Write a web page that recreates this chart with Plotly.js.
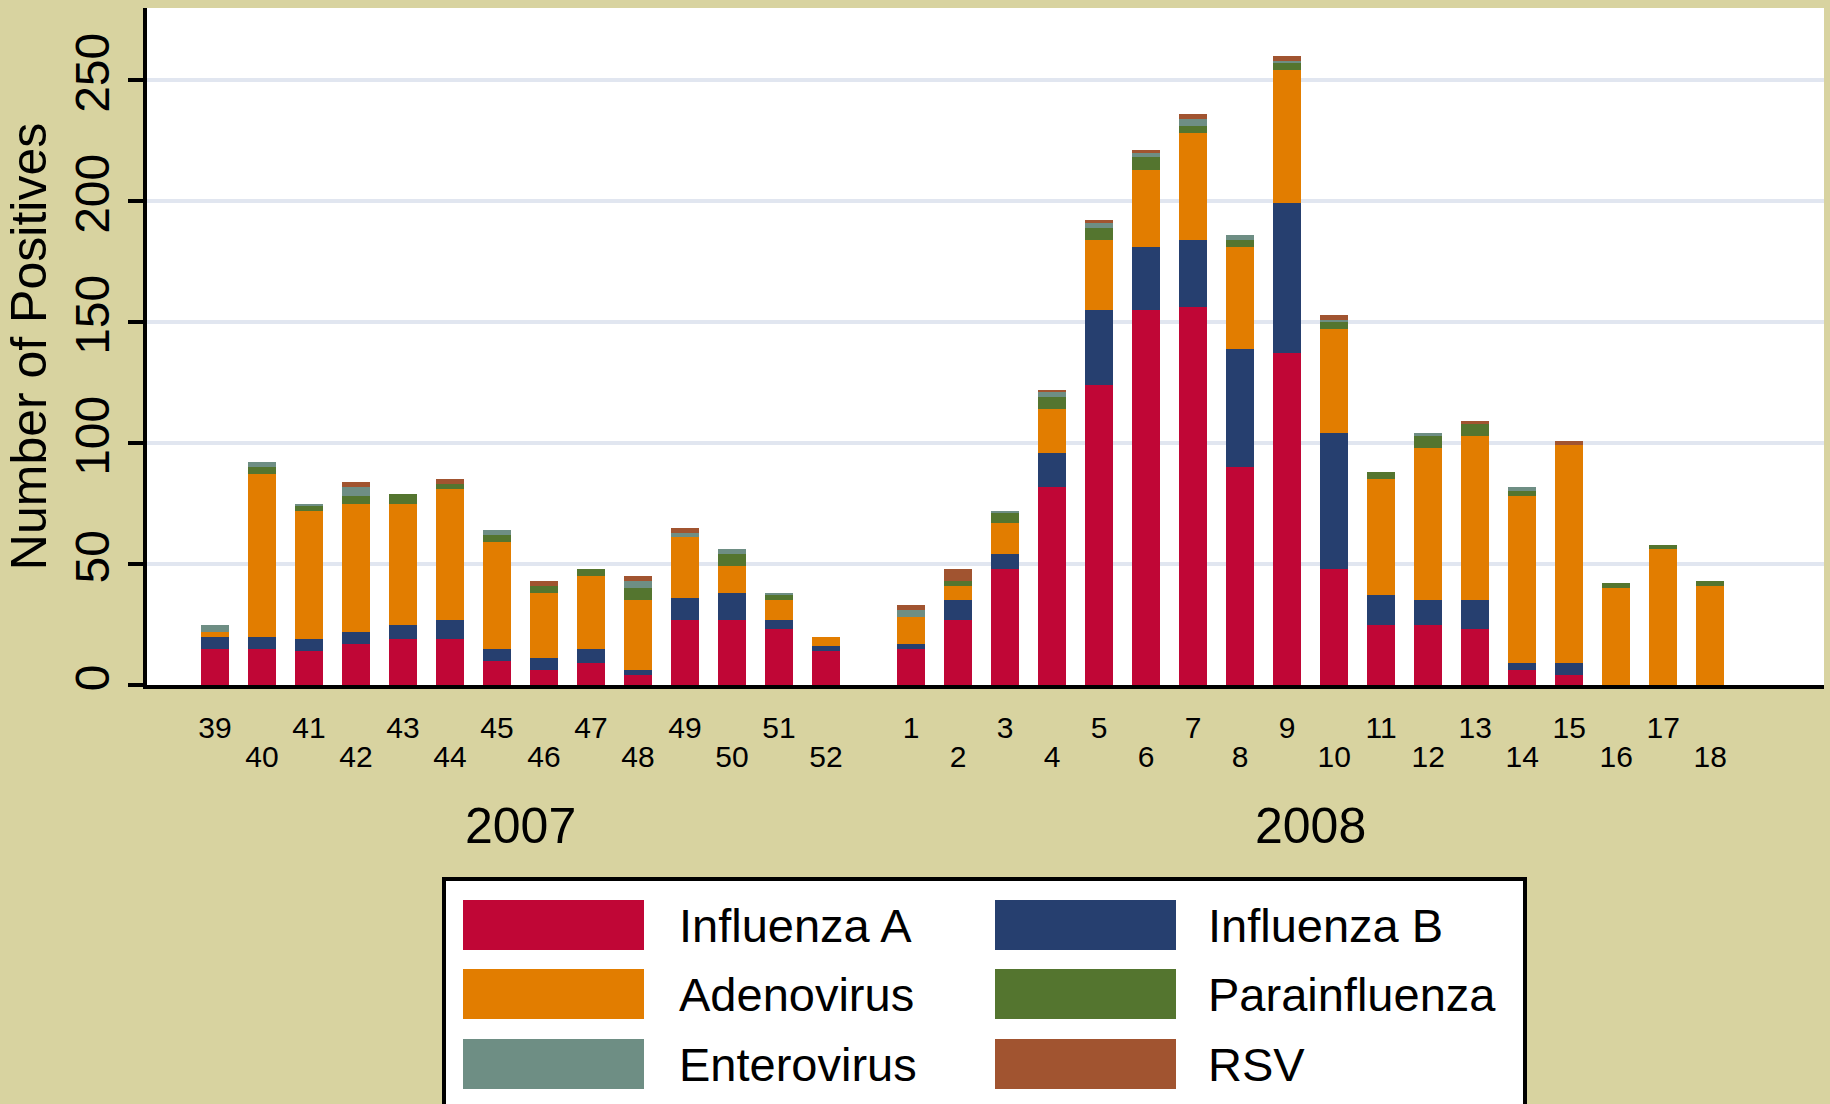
<!DOCTYPE html>
<html>
<head>
<meta charset="utf-8">
<script src="https://cdn.plot.ly/plotly-3.0.1.min.js"></script>
<style>
  html, body { margin: 0; padding: 0; background: #D8D3A0; }
  #chart { width: 1830px; height: 1104px; }
</style>
</head>
<body>
<div id="chart"></div>
<script>
// ---------------- DATA ----------------
const years = ['2007', '2008'];
const weeks2007 = [39, 40, 41, 42, 43, 44, 45, 46, 47, 48, 49, 50, 51, 52];
const weeks2008 = [1, 2, 3, 4, 5, 6, 7, 8, 9, 10, 11, 12, 13, 14, 15, 16, 17, 18];
const seriesNames = ['Influenza A', 'Influenza B', 'Adenovirus', 'Parainfluenza', 'Enterovirus', 'RSV'];

//                 39  40  41  42  43  44  45  46  47  48  49  50  51  52 | 1   2   3   4   5    6    7    8   9    10  11  12  13  14  15  16  17  18
const influenzaA   = [15, 15, 14, 17, 19, 19, 10,  6,  9,  4, 27, 27, 23, 14, 15, 27, 48, 82, 124, 155, 156, 90, 137, 48, 25, 25, 23,  6,  4,  0,  0,  0];
const influenzaB   = [ 5,  5,  5,  5,  6,  8,  5,  5,  6,  2,  9, 11,  4,  2,  2,  8,  6, 14,  31,  26,  28, 49,  62, 56, 12, 10, 12,  3,  5,  0,  0,  0];
const adenovirus   = [ 2, 67, 53, 53, 50, 54, 44, 27, 30, 29, 25, 11,  8,  4, 11,  6, 13, 18,  29,  32,  44, 42,  55, 43, 48, 63, 68, 69, 90, 40, 56, 41];
const parainfluenza= [ 0,  3,  2,  3,  4,  2,  3,  3,  3,  5,  0,  5,  2,  0,  0,  2,  4,  5,   5,   5,   3,  3,   3,  3,  3,  5,  5,  2,  0,  2,  2,  2];
const enterovirus  = [ 3,  2,  1,  4,  0,  0,  2,  0,  0,  3,  2,  2,  1,  0,  3,  0,  1,  2,   2,   2,   3,  2,   1,  1,  0,  1,  0,  2,  0,  0,  0,  0];
const rsv          = [ 0,  0,  0,  2,  0,  2,  0,  2,  0,  2,  2,  0,  0,  0,  2,  5,  0,  1,   1,   1,   2,  0,   2,  2,  0,  0,  1,  0,  2,  0,  0,  0];

const yTickValues = [0, 50, 100, 150, 200, 250];

// ---------------- STYLE ----------------
const seriesColors = ['#C00636', '#263F6F', '#E27D00', '#54752F', '#6E8E84', '#A15430'];
const KHAKI = '#D8D3A0';
const GRID = '#E1E6F0';
const SANS = 'Liberation Sans, Arial, sans-serif';

// ---------------- LAYOUT GEOMETRY ----------------
const W = 1830, H = 1104;
const M = { l: 147, r: 6, t: 8, b: 419 };
const plotW = W - M.l - M.r, plotH = H - M.t - M.b;
const GROUP_GAP = 0.81;          // extra gap between the two years (in slot units)
const X_RANGE = [-1.446, 34.23];
const Y_RANGE = [0, 279.75];

// category positions on a linear axis, derived from the week lists
const weeks = weeks2007.concat(weeks2008);
const yearOf = weeks2007.map(() => 0).concat(weeks2008.map(() => 1));
const positions = weeks2007.map((w, i) => i)
  .concat(weeks2008.map((w, j) => weeks2007.length + GROUP_GAP + j));

const series = [influenzaA, influenzaB, adenovirus, parainfluenza, enterovirus, rsv];
const traces = series.map((vals, k) => ({
  type: 'bar',
  name: seriesNames[k],
  x: positions,
  y: vals,
  width: 0.606,
  marker: { color: seriesColors[k], line: { width: 0 } },
  showlegend: false,
  hoverinfo: 'name+y'
}));
// empty helper trace so that the second (staggered-label) x axis gets drawn
traces.push({ type: 'scatter', x: [], y: [], xaxis: 'x2', yaxis: 'y', showlegend: false, hoverinfo: 'skip' });

// staggered tick labels: first, third, ... of each year on the upper row
const upperVals = [], upperText = [], lowerVals = [], lowerText = [];
weeks.forEach((w, i) => {
  const idxInYear = yearOf[i] === 0 ? i : i - weeks2007.length;
  if (idxInYear % 2 === 0) { upperVals.push(positions[i]); upperText.push(String(w)); }
  else { lowerVals.push(positions[i]); lowerText.push(String(w)); }
});

// pixel helpers (for non-data decorations: legend box)
const pxX = px => (px - M.l) / plotW;
const pxY = py => (H - M.b - py) / plotH;

// year annotations centred under each group
const annotations = years.map((yr, g) => {
  const pos = positions.filter((p, i) => yearOf[i] === g);
  const mid = (Math.min(...pos) + Math.max(...pos)) / 2;
  return {
    xref: 'x', yref: 'paper', x: mid, y: pxY(826),
    xanchor: 'center', yanchor: 'middle', showarrow: false,
    text: yr, font: { family: SANS, size: 50, color: '#000' }
  };
});

// custom legend (two columns, big swatches as in the original)
const shapes = [{
  type: 'rect', xref: 'paper', yref: 'paper',
  x0: pxX(444), x1: pxX(1525), y0: pxY(1125), y1: pxY(879),
  fillcolor: '#FFFFFF', line: { color: '#000000', width: 4 }, layer: 'above'
}];
const colX = [463, 995], textX = [677, 1206], rowY = [925, 994, 1064];
seriesNames.forEach((nm, k) => {
  const c = k % 2, r = Math.floor(k / 2);
  shapes.push({
    type: 'rect', xref: 'paper', yref: 'paper',
    x0: pxX(colX[c]), x1: pxX(colX[c] + 181),
    y0: pxY(rowY[r] + 25), y1: pxY(rowY[r] - 25),
    fillcolor: seriesColors[k], line: { width: 0 }, layer: 'above'
  });
  annotations.push({
    xref: 'paper', yref: 'paper', x: pxX(textX[c]), y: pxY(rowY[r]),
    xanchor: 'left', yanchor: 'middle', showarrow: false,
    text: nm, font: { family: SANS, size: 47, color: '#000' }
  });
});

const layout = {
  width: W, height: H,
  margin: M,
  paper_bgcolor: KHAKI,
  plot_bgcolor: '#FFFFFF',
  barmode: 'stack',
  showlegend: false,
  xaxis: {
    type: 'linear', range: X_RANGE, fixedrange: true,
    showgrid: false, zeroline: false,
    showline: true, linecolor: '#000', linewidth: 4,
    ticks: '', tickmode: 'array', tickvals: upperVals, ticktext: upperText,
    tickfont: { family: SANS, size: 30, color: '#000' },
    ticklabelstandoff: 13
  },
  xaxis2: {
    type: 'linear', range: X_RANGE, fixedrange: true, overlaying: 'x', anchor: 'y', side: 'bottom',
    showgrid: false, zeroline: false, showline: false,
    ticks: '', tickmode: 'array', tickvals: lowerVals, ticktext: lowerText,
    tickfont: { family: SANS, size: 30, color: '#000' },
    ticklabelstandoff: 51
  },
  yaxis: {
    range: Y_RANGE, fixedrange: true,
    tickmode: 'array', tickvals: yTickValues, ticktext: yTickValues.map(String),
    tickangle: -90,
    ticks: 'outside', ticklen: 15, tickwidth: 4, tickcolor: '#000',
    showline: true, linecolor: '#000', linewidth: 4,
    showgrid: true, gridcolor: GRID, gridwidth: 4, zeroline: false,
    tickfont: { family: SANS, size: 48, color: '#000' },
    title: { text: 'Number of Positives', font: { family: SANS, size: 50, color: '#000' }, standoff: 4 }
  },
  shapes: shapes,
  annotations: annotations
};

Plotly.newPlot('chart', traces, layout, { staticPlot: true, displayModeBar: false });
</script>
</body>
</html>
